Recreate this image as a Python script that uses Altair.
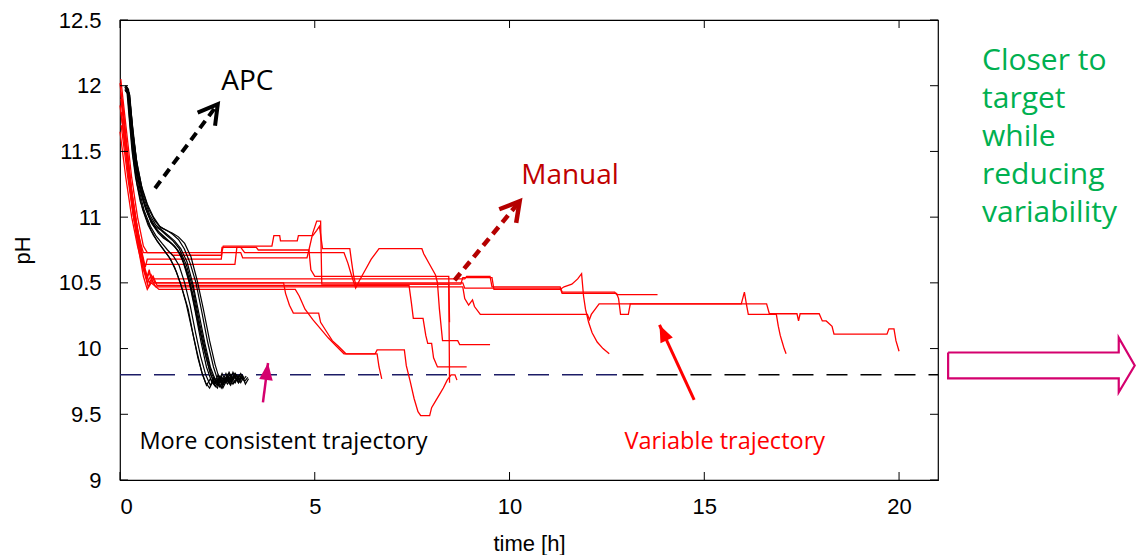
import altair as alt
import pandas as pd

# ---------------- axes ----------------
x_ticks = [0, 5, 10, 15, 20]
y_ticks = [9, 9.5, 10, 10.5, 11, 11.5, 12, 12.5]
x_domain = [0, 21]
y_domain = [9, 12.5]

# ---------------- target pH (dashed) ----------------
target_ph = 9.8
target_segments = [(0, 12.9, "#1c1c66"), (12.9, 21, "#000000")]

# ---------------- APC runs (black) : (time h, pH) ----------------
apc_01 = [(0.13,11.98),(0.19,11.96),(0.26,11.7),(0.34,11.45),(0.44,11.25),(0.58,11.06),(0.72,10.94),(0.86,10.86),(1.0,10.8),(1.15,10.74),(1.3,10.68),(1.45,10.58),(1.6,10.45),(1.75,10.3),(1.88,10.1),(2.0,9.93),(2.12,9.8),(2.22,9.72),(2.32,9.77),(2.42,9.73),(2.52,9.8),(2.62,9.75),(2.72,9.81),(2.82,9.74),(2.92,9.79),(3.02,9.75)]
apc_02 = [(0.15,12.0),(0.22,11.97),(0.3,11.7),(0.38,11.45),(0.5,11.25),(0.65,11.08),(0.8,10.96),(0.95,10.9),(1.1,10.86),(1.25,10.82),(1.4,10.78),(1.55,10.72),(1.7,10.6),(1.85,10.42),(2.0,10.2),(2.15,10.0),(2.3,9.83),(2.42,9.73),(2.5,9.7),(2.6,9.78),(2.7,9.75),(2.8,9.82),(2.9,9.76),(3.0,9.8),(3.1,9.74),(3.18,9.79)]
apc_03 = [(0.12,11.97),(0.18,11.95),(0.24,11.74),(0.31,11.5),(0.4,11.3),(0.52,11.12),(0.66,11.0),(0.8,10.9),(0.95,10.82),(1.1,10.76),(1.25,10.7),(1.4,10.62),(1.55,10.5),(1.7,10.34),(1.85,10.14),(1.98,9.97),(2.1,9.82),(2.2,9.74),(2.3,9.7),(2.4,9.76),(2.5,9.72),(2.6,9.79),(2.7,9.74),(2.8,9.78),(2.9,9.73),(3.0,9.77),(3.06,9.74)]
apc_04 = [(0.16,11.99),(0.24,11.94),(0.33,11.65),(0.44,11.4),(0.58,11.2),(0.74,11.06),(0.9,10.97),(1.05,10.92),(1.2,10.9),(1.35,10.87),(1.5,10.83),(1.65,10.76),(1.8,10.65),(1.95,10.5),(2.1,10.28),(2.25,10.05),(2.4,9.86),(2.52,9.75),(2.6,9.7),(2.7,9.78),(2.8,9.74),(2.9,9.82),(3.0,9.76),(3.1,9.81),(3.2,9.75),(3.28,9.78)]
apc_05 = [(0.14,11.98),(0.21,11.96),(0.29,11.68),(0.37,11.42),(0.48,11.22),(0.62,11.05),(0.78,10.93),(0.92,10.86),(1.08,10.8),(1.22,10.75),(1.38,10.7),(1.52,10.63),(1.66,10.5),(1.8,10.33),(1.94,10.12),(2.07,9.94),(2.2,9.8),(2.32,9.72),(2.42,9.78),(2.52,9.74),(2.62,9.81),(2.72,9.75),(2.82,9.8),(2.92,9.74),(3.04,9.79),(3.14,9.77)]
apc_06 = [(0.13,12.0),(0.2,11.98),(0.26,11.78),(0.34,11.52),(0.44,11.32),(0.58,11.14),(0.72,11.02),(0.88,10.93),(1.02,10.88),(1.18,10.83),(1.32,10.8),(1.48,10.75),(1.62,10.66),(1.78,10.5),(1.92,10.3),(2.08,10.05),(2.22,9.86),(2.35,9.75),(2.45,9.71),(2.55,9.77),(2.65,9.73),(2.75,9.8),(2.85,9.75),(2.95,9.81),(3.05,9.76),(3.12,9.8)]
apc_07 = [(0.17,11.97),(0.25,11.93),(0.34,11.62),(0.45,11.36),(0.6,11.16),(0.76,11.02),(0.92,10.94),(1.08,10.9),(1.24,10.86),(1.4,10.82),(1.56,10.76),(1.72,10.66),(1.88,10.48),(2.03,10.26),(2.18,10.04),(2.32,9.86),(2.45,9.76),(2.56,9.71),(2.66,9.77),(2.76,9.73),(2.86,9.8),(2.96,9.74),(3.06,9.8),(3.16,9.76),(3.24,9.79)]
apc_08 = [(0.14,11.96),(0.22,11.93),(0.3,11.66),(0.4,11.4),(0.52,11.2),(0.66,11.06),(0.82,10.95),(0.98,10.88),(1.12,10.84),(1.28,10.81),(1.42,10.77),(1.58,10.7),(1.74,10.57),(1.9,10.38),(2.05,10.15),(2.2,9.95),(2.33,9.8),(2.44,9.73),(2.54,9.77),(2.64,9.72),(2.74,9.78),(2.84,9.73),(2.94,9.8),(3.04,9.74),(3.14,9.78)]
apc_09 = [(0.15,11.97),(0.23,11.95),(0.32,11.7),(0.42,11.44),(0.55,11.24),(0.7,11.1),(0.86,11.0),(1.02,10.93),(1.18,10.9),(1.34,10.88),(1.5,10.85),(1.66,10.8),(1.82,10.7),(1.98,10.52),(2.14,10.3),(2.3,10.06),(2.44,9.88),(2.56,9.76),(2.64,9.7),(2.74,9.76),(2.84,9.72),(2.94,9.8),(3.04,9.74),(3.14,9.79),(3.22,9.73),(3.3,9.77)]
apc_10 = [(0.12,11.99),(0.19,11.97),(0.27,11.74),(0.36,11.5),(0.47,11.3),(0.6,11.13),(0.76,11.0),(0.9,10.93),(1.05,10.9),(1.2,10.86),(1.36,10.82),(1.52,10.76),(1.7,10.64),(1.88,10.45),(2.04,10.2),(2.2,9.98),(2.34,9.82),(2.46,9.74),(2.56,9.79),(2.66,9.73),(2.76,9.8),(2.86,9.75),(2.96,9.81),(3.06,9.76),(3.16,9.8)]

# ---------------- Manual runs (red) : (time h, pH) ----------------
manual_01 = [(0.0,12.02),(0.12,11.7),(0.25,11.3),(0.4,11.0),(0.55,10.75),(0.65,10.62),(0.7,10.68),(2.6,10.68),(2.62,10.73),(3.1,10.73),(3.15,10.69),(4.8,10.69),(4.85,10.75),(4.95,10.88),(5.05,10.97),(5.15,10.97),(5.18,10.49),(8.75,10.49),(8.8,10.54),(9.55,10.54),(9.6,10.45),(11.3,10.45),(11.4,10.47),(11.6,10.49),(11.75,10.53),(11.85,10.57),(11.9,10.4),(11.95,10.3),(12.03,10.2),(12.12,10.12),(12.25,10.05),(12.4,10.0),(12.56,9.96)]
manual_02 = [(0.02,11.95),(0.15,11.6),(0.3,11.2),(0.45,10.9),(0.55,10.78),(0.6,10.73),(2.6,10.73),(2.62,10.77),(3.1,10.77),(3.2,10.73),(5.75,10.73),(5.85,10.65),(5.95,10.55),(6.05,10.46),(6.15,10.52),(6.3,10.6),(6.45,10.68),(6.65,10.76),(7.75,10.76),(7.8,10.72),(7.95,10.64),(8.1,10.56),(8.15,10.5),(8.2,10.3),(8.28,10.06),(8.67,10.06),(8.72,10.03),(9.5,10.03)]
manual_03 = [(0.0,11.85),(0.15,11.5),(0.3,11.1),(0.45,10.8),(0.6,10.55),(0.7,10.45),(0.8,10.5),(1.0,10.45),(4.5,10.45),(4.6,10.4),(4.75,10.3),(4.95,10.22),(5.15,10.15),(5.35,10.08),(5.55,10.02),(5.75,9.96),(6.55,9.96),(6.6,9.99),(7.3,9.99),(7.35,9.87),(7.45,9.75),(7.55,9.62),(7.65,9.52),(7.72,9.49),(7.95,9.49),(8.0,9.55),(8.1,9.6),(8.2,9.65),(8.3,9.7),(8.4,9.76),(8.5,9.8),(8.6,9.8),(8.65,9.76)]
manual_04 = [(0.03,11.8),(0.2,11.35),(0.35,11.0),(0.5,10.75),(0.6,10.6),(0.68,10.52),(0.75,10.58),(0.85,10.5),(4.2,10.5),(4.25,10.42),(4.35,10.33),(4.45,10.27),(5.1,10.27),(5.15,10.2),(5.3,10.13),(5.45,10.06),(5.6,10.02),(5.8,9.96),(6.6,9.96),(6.65,9.86),(6.72,9.77)]
manual_05 = [(0.05,11.9),(0.2,11.45),(0.35,11.05),(0.5,10.8),(0.65,10.6),(0.75,10.5),(0.85,10.55),(0.95,10.48),(7.42,10.48),(7.48,10.35),(7.53,10.23),(7.78,10.23),(7.85,10.1),(7.9,10.04),(8.0,10.04),(8.05,9.93),(8.15,9.86),(8.9,9.86)]
manual_06 = [(0.02,12.05),(0.15,11.7),(0.3,11.3),(0.45,11.0),(0.6,10.78),(0.7,10.73),(1.3,10.73),(1.35,10.71),(2.6,10.71),(2.65,10.78),(3.9,10.78),(3.95,10.86),(4.1,10.86),(4.12,10.82),(4.55,10.82),(4.58,10.86),(4.95,10.86),(5.05,10.9),(5.12,10.93),(5.2,10.76),(5.9,10.76),(5.95,10.65),(6.0,10.55),(6.05,10.49),(8.44,10.49),(8.46,9.74)]
manual_07 = [(0.0,11.65),(0.15,11.3),(0.3,11.0),(0.45,10.78),(0.6,10.6),(0.7,10.55),(0.75,10.6),(0.8,10.53),(8.85,10.53),(8.9,10.55),(9.5,10.55),(9.55,10.47),(11.3,10.47),(11.35,10.43),(12.7,10.43),(12.75,10.41),(13.8,10.41)]
manual_08 = [(0.05,11.75),(0.2,11.4),(0.35,11.05),(0.5,10.8),(0.62,10.62),(0.7,10.5),(0.8,10.56),(0.9,10.5),(8.8,10.5),(8.85,10.46),(11.3,10.46),(11.35,10.42),(12.75,10.42),(12.8,10.38),(12.85,10.26),(13.05,10.26),(13.1,10.34),(15.95,10.34),(16.03,10.43),(16.08,10.34),(16.13,10.26),(16.85,10.26),(16.9,10.17),(16.95,10.1),(17.0,10.05),(17.05,10.0),(17.1,9.96)]
manual_09 = [(0.02,11.9),(0.18,11.5),(0.32,11.15),(0.48,10.85),(0.62,10.62),(0.72,10.47),(0.82,10.52),(0.92,10.47),(8.8,10.47),(8.85,10.38),(8.95,10.33),(9.05,10.37),(9.1,10.32),(9.25,10.26),(12.0,10.26),(12.05,10.22),(12.1,10.26),(12.2,10.3),(12.3,10.34),(16.6,10.34),(16.67,10.265),(17.38,10.265),(17.42,10.21),(17.46,10.265),(17.95,10.265),(18.03,10.21),(18.13,10.21),(18.28,10.17),(18.33,10.11),(19.69,10.11),(19.74,10.15),(19.87,10.15),(19.92,10.06),(20.0,9.98)]
manual_10 = [(0.03,11.7),(0.2,11.3),(0.35,11.0),(0.5,10.78),(0.6,10.64),(2.95,10.64),(3.0,10.77),(3.5,10.77),(3.55,10.75),(4.85,10.75),(4.9,10.6),(5.0,10.55),(8.44,10.55),(8.46,10.2)]

# ---------------- annotations (data units) ----------------
labels_black = [("More consistent trajectory", 0.5, 9.29)]
labels_apc = [("APC", 2.6, 12.03)]
labels_darkred = [("Manual", 10.3, 11.31)]
labels_red = [("Variable trajectory", 12.95, 9.29)]
green_lines = ["Closer to", "target", "while", "reducing", "variability"]
labels_green = [("\n".join(green_lines), 22.13, 12.19)]
# arrows: (t start, pH start, t tip, pH tip, head angle in degrees)
arrow_apc = [(0.9, 11.22, 2.51, 11.86, 37)]
arrow_manual = [(8.59, 10.52, 10.26, 11.12, 39)]
arrow_consistent = [(3.67, 9.59, 3.8, 9.89, 7)]
arrow_variable = [(14.74, 9.61, 13.85, 10.18, 335)]
# hollow block arrow outline to the right of the plot
block_arrow = [(21.26, 9.97), (25.64, 9.97), (25.64, 10.083), (26.05, 9.871), (25.64, 9.667),
               (25.64, 9.773), (21.26, 9.773), (21.26, 9.97)]


# ---------------- build tables ----------------
def curves_df(curves, prefix):
    rows = []
    for k, pts in enumerate(curves):
        for i, (t, p) in enumerate(pts):
            rows.append({"curve": f"{prefix}{k}", "t": t, "pH": p, "i": i})
    return pd.DataFrame(rows)


apc_df = curves_df([apc_01, apc_02, apc_03, apc_04, apc_05, apc_06, apc_07, apc_08, apc_09, apc_10], "apc")
man_df = curves_df([manual_01, manual_02, manual_03, manual_04, manual_05, manual_06, manual_07,
                    manual_08, manual_09, manual_10], "man")
target_df = pd.DataFrame([{"t": a, "t2": b, "pH": target_ph, "c": c} for a, b, c in target_segments])
block_df = pd.DataFrame([{"t": t, "pH": p, "i": i} for i, (t, p) in enumerate(block_arrow)])


def text_df(items):
    return pd.DataFrame([{"label": s, "t": t, "pH": p} for s, t, p in items])


def arrow_df(items):
    return pd.DataFrame([{"t": a, "pH": b, "t2": c, "pH2": d, "ang": e} for a, b, c, d, e in items])


PLOT_W, PLOT_H = 818, 460
xs = alt.Scale(domain=x_domain, nice=False, zero=False)
ys = alt.Scale(domain=y_domain, nice=False, zero=False)
AX_FONT = "Liberation Sans"
x_axis = alt.Axis(values=x_ticks, ticks=False, tickSize=0, domain=False, grid=False, format="~g",
                  labelFont=AX_FONT, labelFontSize=22, labelColor="#000", labelPadding=16,
                  titleFont=AX_FONT, titleFontSize=22, titleFontWeight="normal", titleColor="#000",
                  titleY=70, titleBaseline="alphabetic")
y_axis = alt.Axis(values=y_ticks, ticks=False, tickSize=0, domain=False, grid=False, format="~g",
                  labelFont=AX_FONT, labelFontSize=22, labelColor="#000", labelPadding=19,
                  titleFont=AX_FONT, titleFontSize=22, titleFontWeight="normal", titleColor="#000",
                  titleX=-98, titleBaseline="middle")


def X(f="t"):
    return alt.X(f + ":Q", scale=xs, axis=x_axis, title="time [h]")


def Y(f="pH"):
    return alt.Y(f + ":Q", scale=ys, axis=y_axis, title="pH")


manual_layer = alt.Chart(man_df).mark_line(color="#ff0000", strokeWidth=1.3).encode(
    x=X(), y=Y(), detail="curve:N", order="i:Q")
apc_layer = alt.Chart(apc_df).mark_line(color="#000000", strokeWidth=1.2).encode(
    x=X(), y=Y(), detail="curve:N", order="i:Q")
target_layer = alt.Chart(target_df).mark_rule(strokeDash=[21, 13], strokeWidth=1.5).encode(
    x=X(), x2="t2:Q", y=Y(), color=alt.Color("c:N", scale=None))

# inward ticks
ytick_df = pd.DataFrame({"pH": y_ticks})
xtick_df = pd.DataFrame({"t": x_ticks})
tick_style = dict(color="#000", strokeWidth=1)
left_ticks = alt.Chart(ytick_df).mark_rule(**tick_style).encode(y=Y(), x=alt.value(0), x2=alt.value(8))
right_ticks = alt.Chart(ytick_df).mark_rule(**tick_style).encode(
    y=Y(), x=alt.value(PLOT_W - 8), x2=alt.value(PLOT_W))
bottom_ticks = alt.Chart(xtick_df).mark_rule(**tick_style).encode(
    x=X(), y=alt.value(PLOT_H), y2=alt.value(PLOT_H - 8))
top_ticks = alt.Chart(xtick_df).mark_rule(**tick_style).encode(x=X(), y=alt.value(0), y2=alt.value(8))


def texts(items, color, size, **kw):
    return alt.Chart(text_df(items)).mark_text(align="left", baseline="middle", font="Open Sans",
                                                fontSize=size, color=color, **kw).encode(
        x=X(), y=Y(), text="label:N")


CHEVRON = "M-0.5,0.87L0,0L0.5,0.87"
TRI = "M0,0L-0.8,2L0.8,2Z"


def arrow(items, color, width, dash=None, head="tri", head_size=289):
    d = arrow_df(items)
    rule_kw = dict(color=color, strokeWidth=width)
    if dash:
        rule_kw["strokeDash"] = dash
    shaft = alt.Chart(d).mark_rule(**rule_kw).encode(x=X(), y=Y(), x2="t2:Q", y2="pH2:Q")
    if head == "chevron":
        hd = alt.Chart(d).mark_point(shape=CHEVRON, filled=False, stroke=color, strokeWidth=width,
                                     size=head_size, opacity=1, strokeJoin="miter", strokeCap="butt")
    else:
        hd = alt.Chart(d).mark_point(shape=TRI, filled=True, fill=color, size=head_size, opacity=1,
                                     strokeWidth=0)
    hd = hd.encode(x=X("t2"), y=Y("pH2"), angle=alt.Angle("ang:Q", scale=None))
    return shaft + hd


block_layer = alt.Chart(block_df).mark_line(color="#d4006e", strokeWidth=2.2, strokeJoin="miter").encode(
    x=X(), y=Y(), order="i:Q")

chart = alt.layer(
    target_layer,
    manual_layer,
    apc_layer,
    left_ticks, right_ticks, bottom_ticks, top_ticks,
    arrow(arrow_apc, "#000000", 4, dash=[9, 6], head="chevron", head_size=1900),
    arrow(arrow_manual, "#b50000", 4.5, dash=[9, 6], head="chevron", head_size=1900),
    arrow(arrow_consistent, "#d4006e", 2.5, head="tri", head_size=289),
    arrow(arrow_variable, "#ff0000", 3, head="tri", head_size=289),
    texts(labels_apc, "#000000", 28),
    texts(labels_black, "#000000", 23.5),
    texts(labels_darkred, "#c00000", 28),
    texts(labels_red, "#ff0000", 23.5),
    texts(labels_green, "#00b050", 30, lineBreak="\n", lineHeight=38),
    block_layer,
).properties(
    width=PLOT_W, height=PLOT_H,
    autosize=alt.AutoSizeParams(type="none"),
    padding={"left": 112, "top": 12, "right": 199, "bottom": 75},
).configure_view(stroke="#000000", strokeWidth=1.2)

chart.save("out.html", embed_options={"renderer": "svg", "actions": False})
